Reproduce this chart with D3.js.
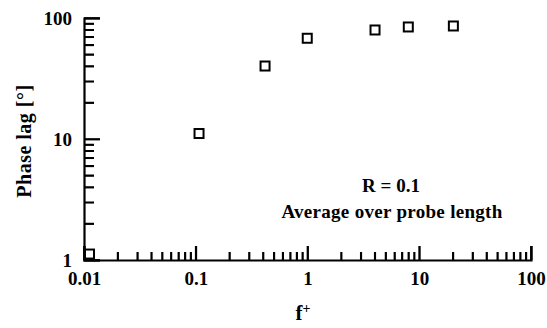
<!DOCTYPE html>
<html>
<head>
<meta charset="utf-8">
<script src="https://cdn.jsdelivr.net/npm/d3@7"></script>
</head>
<body style="margin:0;background:#fff">
<div id="chart"></div>
<script>
// data
var fPlus = [0.0112, 0.107, 0.417, 0.995, 4.02, 7.98, 20.2];
var phaseLag = [1.12, 11.1, 40.1, 68, 79.6, 84.3, 85.9];

var xMajorTicks = [0.01, 0.1, 1, 10, 100];
var xTickLabels = ['0.01', '0.1', '1', '10', '100'];
var yMajorTicks = [1, 10, 100];
var yTickLabels = ['1', '10', '100'];

var serif = 'Liberation Serif';

var svg = d3.select('#chart')
  .append('svg')
  .attr('width', 547)
  .attr('height', 328);

var xScale = d3.scaleLog().domain([0.01, 100]).range([84, 531]);
var yScale = d3.scaleLog().domain([1, 100]).range([260, 18]);

// minor ticks 2..9 in every decade
function minorTicks(lo, hi) {
  var out = [];
  for (var d = lo; d < hi; d *= 10) {
    for (var m = 2; m <= 9; m++) out.push(d * m);
  }
  return out;
}

// minor x ticks, pointing up into the plot
var xMinor = svg.append('g')
  .attr('transform', 'translate(0,260)')
  .call(d3.axisBottom(xScale).tickValues(minorTicks(0.01, 100)).tickSize(-8).tickFormat(''));
xMinor.select('.domain').remove();
xMinor.selectAll('line').attr('stroke-width', 1.6);

// minor y ticks, pointing right
var yMinor = svg.append('g')
  .attr('transform', 'translate(84,0)')
  .call(d3.axisLeft(yScale).tickValues(minorTicks(1, 100)).tickSize(-10).tickFormat(''));
yMinor.select('.domain').remove();
yMinor.selectAll('line').attr('stroke-width', 1.6);

// major ticks + labels
var xAxis = svg.append('g')
  .attr('transform', 'translate(0,260)')
  .call(d3.axisBottom(xScale)
    .tickValues(xMajorTicks)
    .tickSize(-14)
    .tickPadding(12)
    .tickFormat((d, i) => xTickLabels[i]));
xAxis.select('.domain').attr('stroke-width', 2.2);
xAxis.selectAll('line').attr('stroke-width', 1.8);
xAxis.selectAll('text')
  .attr('font-family', serif)
  .attr('font-weight', 'bold')
  .attr('font-size', 19);

var yAxis = svg.append('g')
  .attr('transform', 'translate(84,0)')
  .call(d3.axisLeft(yScale)
    .tickValues(yMajorTicks)
    .tickSize(-16)
    .tickPadding(12)
    .tickFormat((d, i) => yTickLabels[i]));
yAxis.select('.domain').attr('stroke-width', 2.2);
yAxis.selectAll('line').attr('stroke-width', 1.8);
yAxis.selectAll('text')
  .attr('font-family', serif)
  .attr('font-weight', 'bold')
  .attr('font-size', 19);

// same tick marks again as paths from the scales, so they show in any renderer
var tickPath = d3.path();
minorTicks(0.01, 100).forEach(v => { tickPath.moveTo(xScale(v), 260); tickPath.lineTo(xScale(v), 252); });
xMajorTicks.forEach(v => { tickPath.moveTo(xScale(v), 260); tickPath.lineTo(xScale(v), 246); });
minorTicks(1, 100).forEach(v => { tickPath.moveTo(84, yScale(v)); tickPath.lineTo(94, yScale(v)); });
yMajorTicks.forEach(v => { tickPath.moveTo(84, yScale(v)); tickPath.lineTo(100, yScale(v)); });
svg.append('path')
  .attr('d', tickPath.toString())
  .attr('fill', 'none')
  .attr('stroke', 'black')
  .attr('stroke-width', 1.7);

// open squares
var points = fPlus.map((f, i) => ({ f: f, lag: phaseLag[i] }));
var side = 9;
svg.append('g')
  .selectAll('rect')
  .data(points)
  .enter()
  .append('rect')
  .attr('x', d => xScale(d.f) - side / 2)
  .attr('y', d => yScale(d.lag) - side / 2)
  .attr('width', side)
  .attr('height', side)
  .attr('fill', 'none')
  .attr('stroke', 'black')
  .attr('stroke-width', 2);

// axis titles
svg.append('text')
  .attr('transform', 'translate(31,141) rotate(-90)')
  .attr('text-anchor', 'middle')
  .attr('font-family', serif)
  .attr('font-weight', 'bold')
  .attr('font-size', 20)
  .attr('letter-spacing', 0.5)
  .text('Phase lag [°]');

var xTitle = svg.append('text')
  .attr('x', 303)
  .attr('y', 320)
  .attr('text-anchor', 'middle')
  .attr('font-family', serif)
  .attr('font-weight', 'bold')
  .attr('font-size', 21);
xTitle.append('tspan').text('f');
xTitle.append('tspan').attr('dy', -7).attr('font-size', 14).text('+');

// annotation
svg.append('text')
  .attr('x', 391)
  .attr('y', 192)
  .attr('text-anchor', 'middle')
  .attr('font-family', serif)
  .attr('font-weight', 'bold')
  .attr('font-size', 19)
  .text('R = 0.1');

svg.append('text')
  .attr('x', 392)
  .attr('y', 218)
  .attr('text-anchor', 'middle')
  .attr('font-family', serif)
  .attr('font-weight', 'bold')
  .attr('font-size', 19)
  .attr('letter-spacing', 0.3)
  .text('Average over probe length');
</script>
</body>
</html>
